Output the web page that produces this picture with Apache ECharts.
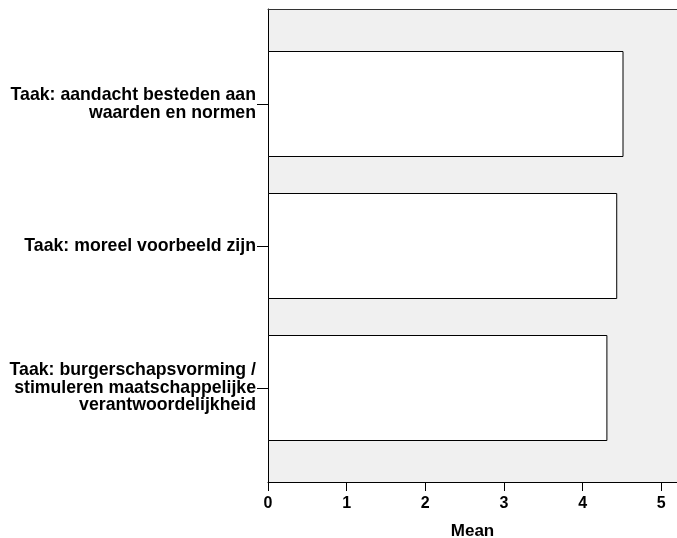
<!DOCTYPE html>
<html>
<head>
<meta charset="utf-8">
<script src="https://cdn.jsdelivr.net/npm/echarts@6/dist/echarts.min.js"></script>
<style>html,body{margin:0;padding:0;background:#fff}#c{width:677px;height:538px}</style>
</head>
<body>
<div id="c"></div>
<script>
const categories = [
  "Taak: aandacht besteden aan\nwaarden en normen",
  "Taak: moreel voorbeeld zijn",
  "Taak: burgerschapsvorming /\nstimuleren maatschappelijke\nverantwoordelijkheid"
];
const meanValues = [4.52, 4.44, 4.315];
const xTicks = [0, 1, 2, 3, 4, 5];
const xAxisTitle = "Mean";

const FONT = "'Liberation Sans', Arial, sans-serif";
const chart = echarts.init(document.getElementById('c'), null, {renderer: 'canvas'});
chart.setOption({
  animation: false,
  grid: [
    {left: 268, right: 0, top: 9, bottom: 56, show: true, backgroundColor: '#f0f0f0', borderWidth: 0, containLabel: false, outerBoundsMode: 'none'},
    {left: 268, right: 0, top: 33, bottom: 79, show: false, containLabel: false, outerBoundsMode: 'none'}
  ],
  xAxis: [
    {
      gridIndex: 0, type: 'value', min: 0, max: 5.2, interval: 1, position: 'bottom',
      axisLine: {show: true, onZero: false, lineStyle: {color: '#000', width: 1}},
      axisTick: {show: true, length: 9, lineStyle: {color: '#000'}},
      splitLine: {show: false},
      axisLabel: {
        showMaxLabel: false, margin: 14, color: '#000', fontFamily: FONT, fontWeight: 'bold', fontSize: 16,
        formatter: v => xTicks.includes(v) ? String(v) : ''
      },
      name: xAxisTitle, nameLocation: 'middle', nameGap: 41,
      nameTextStyle: {color: '#000', fontFamily: FONT, fontWeight: 'bold', fontSize: 17}
    },
    {
      gridIndex: 0, type: 'value', min: 0, max: 5.2, position: 'top',
      axisLine: {show: true, onZero: false, lineStyle: {color: '#333', width: 1}},
      axisTick: {show: false}, axisLabel: {show: false}, splitLine: {show: false}
    },
    {
      gridIndex: 1, type: 'value', min: 0, max: 5.2, show: false, splitLine: {show: false}
    }
  ],
  yAxis: [
    {
      gridIndex: 0, type: 'value', min: 0, max: 1, position: 'left',
      axisLine: {show: true, onZero: false, lineStyle: {color: '#000', width: 1}},
      axisTick: {show: false}, axisLabel: {show: false}, splitLine: {show: false}
    },
    {
      gridIndex: 1, type: 'category', data: categories, inverse: true,
      axisLine: {show: false},
      axisTick: {show: true, alignWithLabel: true, length: 11, lineStyle: {color: '#000'}},
      axisLabel: {
        margin: 12, color: '#000', fontFamily: FONT, fontWeight: 'bold', fontSize: 17.7,
        lineHeight: 17.5, align: 'right'
      },
      splitLine: {show: false}
    }
  ],
  series: [{
    type: 'bar', xAxisIndex: 2, yAxisIndex: 1, data: meanValues, barWidth: 106,
    itemStyle: {color: '#fff', borderColor: '#000', borderWidth: 1},
    silent: true
  }]
});
</script>
</body>
</html>
